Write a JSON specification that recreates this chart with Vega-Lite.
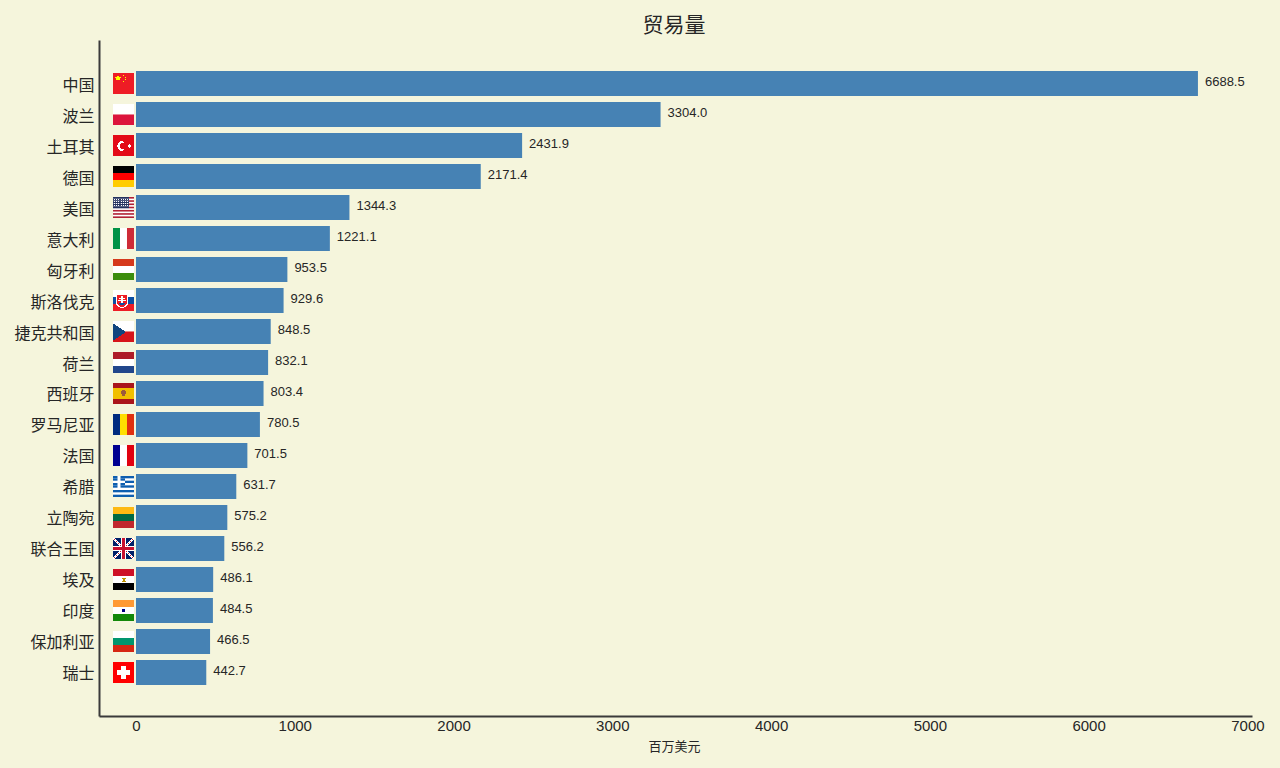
{
  "$schema": "https://vega.github.io/schema/vega-lite/v6.json",
  "width": 1153,
  "height": 676,
  "autosize": {"type": "none"},
  "padding": {"left": 99, "top": 40, "right": 28, "bottom": 52},
  "background": "#F5F5DC",
  "config": {"view": {"stroke": null}},
  "title": {
    "text": "贸易量",
    "font": "Noto Sans CJK SC",
    "fontSize": 21,
    "fontWeight": "normal",
    "color": "#262626",
    "anchor": "middle",
    "dx": -1.5,
    "offset": 4
  },
  "datasets": {
    "trade": [
      {"country": "中国", "volume": 6688.5},
      {"country": "波兰", "volume": 3304.0},
      {"country": "土耳其", "volume": 2431.9},
      {"country": "德国", "volume": 2171.4},
      {"country": "美国", "volume": 1344.3},
      {"country": "意大利", "volume": 1221.1},
      {"country": "匈牙利", "volume": 953.5},
      {"country": "斯洛伐克", "volume": 929.6},
      {"country": "捷克共和国", "volume": 848.5},
      {"country": "荷兰", "volume": 832.1},
      {"country": "西班牙", "volume": 803.4},
      {"country": "罗马尼亚", "volume": 780.5},
      {"country": "法国", "volume": 701.5},
      {"country": "希腊", "volume": 631.7},
      {"country": "立陶宛", "volume": 575.2},
      {"country": "联合王国", "volume": 556.2},
      {"country": "埃及", "volume": 486.1},
      {"country": "印度", "volume": 484.5},
      {"country": "保加利亚", "volume": 466.5},
      {"country": "瑞士", "volume": 442.7}
    ],
    "flagBase": [
      {"country": "中国", "part": "cn_red", "x0": -144.9, "x1": -12.6},
      {"country": "土耳其", "part": "tr_red", "x0": -144.9, "x1": -12.6},
      {"country": "美国", "part": "white", "x0": -144.9, "x1": -12.6},
      {"country": "意大利", "part": "it_green", "x0": -144.9, "x1": -100.8},
      {"country": "意大利", "part": "white", "x0": -100.8, "x1": -56.7},
      {"country": "意大利", "part": "it_red", "x0": -56.7, "x1": -12.6},
      {"country": "西班牙", "part": "es_red", "x0": -144.9, "x1": -12.6},
      {"country": "罗马尼亚", "part": "ro_blue", "x0": -144.9, "x1": -100.8},
      {"country": "罗马尼亚", "part": "ro_yellow", "x0": -100.8, "x1": -56.7},
      {"country": "罗马尼亚", "part": "ro_red", "x0": -56.7, "x1": -12.6},
      {"country": "法国", "part": "fr_blue", "x0": -144.9, "x1": -100.8},
      {"country": "法国", "part": "white", "x0": -100.8, "x1": -56.7},
      {"country": "法国", "part": "fr_red", "x0": -56.7, "x1": -12.6},
      {"country": "希腊", "part": "white", "x0": -144.9, "x1": -12.6},
      {"country": "联合王国", "part": "uk_blue", "x0": -144.9, "x1": -12.6},
      {"country": "瑞士", "part": "ch_red", "x0": -144.9, "x1": -12.6}
    ],
    "flagHalves": [
      {"country": "波兰", "part": "white", "x0": -144.9, "x1": -12.6, "row": 0},
      {"country": "波兰", "part": "pl_red", "x0": -144.9, "x1": -12.6, "row": 1},
      {"country": "捷克共和国", "part": "white", "x0": -144.9, "x1": -12.6, "row": 0},
      {"country": "捷克共和国", "part": "cz_red", "x0": -144.9, "x1": -12.6, "row": 1}
    ],
    "flagThirds": [
      {"country": "德国", "part": "black", "x0": -144.9, "x1": -12.6, "row": 0},
      {"country": "德国", "part": "de_red", "x0": -144.9, "x1": -12.6, "row": 1},
      {"country": "德国", "part": "de_gold", "x0": -144.9, "x1": -12.6, "row": 2},
      {"country": "匈牙利", "part": "hu_red", "x0": -144.9, "x1": -12.6, "row": 0},
      {"country": "匈牙利", "part": "white", "x0": -144.9, "x1": -12.6, "row": 1},
      {"country": "匈牙利", "part": "hu_green", "x0": -144.9, "x1": -12.6, "row": 2},
      {"country": "斯洛伐克", "part": "white", "x0": -144.9, "x1": -12.6, "row": 0},
      {"country": "斯洛伐克", "part": "sk_blue", "x0": -144.9, "x1": -12.6, "row": 1},
      {"country": "斯洛伐克", "part": "sk_red", "x0": -144.9, "x1": -12.6, "row": 2},
      {"country": "荷兰", "part": "nl_red", "x0": -144.9, "x1": -12.6, "row": 0},
      {"country": "荷兰", "part": "white", "x0": -144.9, "x1": -12.6, "row": 1},
      {"country": "荷兰", "part": "nl_blue", "x0": -144.9, "x1": -12.6, "row": 2},
      {"country": "立陶宛", "part": "lt_yellow", "x0": -144.9, "x1": -12.6, "row": 0},
      {"country": "立陶宛", "part": "lt_green", "x0": -144.9, "x1": -12.6, "row": 1},
      {"country": "立陶宛", "part": "lt_red", "x0": -144.9, "x1": -12.6, "row": 2},
      {"country": "埃及", "part": "eg_red", "x0": -144.9, "x1": -12.6, "row": 0},
      {"country": "埃及", "part": "white", "x0": -144.9, "x1": -12.6, "row": 1},
      {"country": "埃及", "part": "black", "x0": -144.9, "x1": -12.6, "row": 2},
      {"country": "印度", "part": "in_orange", "x0": -144.9, "x1": -12.6, "row": 0},
      {"country": "印度", "part": "white", "x0": -144.9, "x1": -12.6, "row": 1},
      {"country": "印度", "part": "in_green", "x0": -144.9, "x1": -12.6, "row": 2},
      {"country": "保加利亚", "part": "white", "x0": -144.9, "x1": -12.6, "row": 0},
      {"country": "保加利亚", "part": "bg_green", "x0": -144.9, "x1": -12.6, "row": 1},
      {"country": "保加利亚", "part": "bg_red", "x0": -144.9, "x1": -12.6, "row": 2}
    ],
    "flagNinths": [
      {"country": "希腊", "part": "gr_blue", "x0": -69.3, "x1": -12.6, "row": 0},
      {"country": "希腊", "part": "gr_blue", "x0": -69.3, "x1": -12.6, "row": 2},
      {"country": "希腊", "part": "gr_blue", "x0": -69.3, "x1": -12.6, "row": 4},
      {"country": "希腊", "part": "gr_blue", "x0": -144.9, "x1": -12.6, "row": 6},
      {"country": "希腊", "part": "gr_blue", "x0": -144.9, "x1": -12.6, "row": 8},
      {"country": "希腊", "part": "gr_blue", "x0": -144.9, "x1": -116.5, "row": 0},
      {"country": "希腊", "part": "gr_blue", "x0": -97.6, "x1": -69.3, "row": 0},
      {"country": "希腊", "part": "gr_blue", "x0": -144.9, "x1": -116.5, "row": 1},
      {"country": "希腊", "part": "gr_blue", "x0": -97.6, "x1": -69.3, "row": 1},
      {"country": "希腊", "part": "gr_blue", "x0": -144.9, "x1": -116.5, "row": 3},
      {"country": "希腊", "part": "gr_blue", "x0": -97.6, "x1": -69.3, "row": 3},
      {"country": "希腊", "part": "gr_blue", "x0": -144.9, "x1": -116.5, "row": 4},
      {"country": "希腊", "part": "gr_blue", "x0": -97.6, "x1": -69.3, "row": 4}
    ],
    "flagThirteenths": [
      {"country": "美国", "part": "us_red", "x0": -44.1, "x1": -12.6, "row": 0},
      {"country": "美国", "part": "us_red", "x0": -44.1, "x1": -12.6, "row": 2},
      {"country": "美国", "part": "us_red", "x0": -44.1, "x1": -12.6, "row": 4},
      {"country": "美国", "part": "us_red", "x0": -44.1, "x1": -12.6, "row": 6},
      {"country": "美国", "part": "us_red", "x0": -144.9, "x1": -12.6, "row": 8},
      {"country": "美国", "part": "us_red", "x0": -144.9, "x1": -12.6, "row": 10},
      {"country": "美国", "part": "us_red", "x0": -144.9, "x1": -12.6, "row": 12},
      {"country": "美国", "part": "us_blue", "x0": -144.9, "x1": -44.1, "row": 0},
      {"country": "美国", "part": "us_blue", "x0": -144.9, "x1": -44.1, "row": 1},
      {"country": "美国", "part": "us_blue", "x0": -144.9, "x1": -44.1, "row": 2},
      {"country": "美国", "part": "us_blue", "x0": -144.9, "x1": -44.1, "row": 3},
      {"country": "美国", "part": "us_blue", "x0": -144.9, "x1": -44.1, "row": 4},
      {"country": "美国", "part": "us_blue", "x0": -144.9, "x1": -44.1, "row": 5},
      {"country": "美国", "part": "us_blue", "x0": -144.9, "x1": -44.1, "row": 6}
    ],
    "flagCells": [
      {"country": "中国", "part": "cn_yellow", "x0": -119.7, "x1": -107.1, "row": 3},
      {"country": "中国", "part": "cn_yellow", "x0": -132.3, "x1": -94.5, "row": 4},
      {"country": "中国", "part": "cn_yellow", "x0": -126, "x1": -100.8, "row": 5},
      {"country": "中国", "part": "cn_yellow", "x0": -126, "x1": -100.8, "row": 6},
      {"country": "中国", "part": "cn_yellow", "x0": -81.9, "x1": -75.6, "row": 2},
      {"country": "中国", "part": "cn_yellow", "x0": -69.3, "x1": -63, "row": 4},
      {"country": "中国", "part": "cn_yellow", "x0": -69.3, "x1": -63, "row": 6},
      {"country": "中国", "part": "cn_yellow", "x0": -81.9, "x1": -75.6, "row": 8},

      {"country": "土耳其", "part": "white", "x0": -100.8, "x1": -81.9, "row": 6},
      {"country": "土耳其", "part": "white", "x0": -107.1, "x1": -75.6, "row": 7},
      {"country": "土耳其", "part": "white", "x0": -113.4, "x1": -94.5, "row": 8},
      {"country": "土耳其", "part": "white", "x0": -113.4, "x1": -100.8, "row": 9},
      {"country": "土耳其", "part": "white", "x0": -119.7, "x1": -100.8, "row": 10},
      {"country": "土耳其", "part": "white", "x0": -119.7, "x1": -100.8, "row": 11},
      {"country": "土耳其", "part": "white", "x0": -113.4, "x1": -100.8, "row": 12},
      {"country": "土耳其", "part": "white", "x0": -113.4, "x1": -94.5, "row": 13},
      {"country": "土耳其", "part": "white", "x0": -107.1, "x1": -75.6, "row": 14},
      {"country": "土耳其", "part": "white", "x0": -100.8, "x1": -81.9, "row": 15},
      {"country": "土耳其", "part": "white", "x0": -44.1, "x1": -37.8, "row": 9},
      {"country": "土耳其", "part": "white", "x0": -50.4, "x1": -31.5, "row": 10},
      {"country": "土耳其", "part": "white", "x0": -50.4, "x1": -31.5, "row": 11},
      {"country": "土耳其", "part": "white", "x0": -44.1, "x1": -37.8, "row": 12},

      {"country": "美国", "part": "white", "x0": -138.6, "x1": -132.3, "row": 2},
      {"country": "美国", "part": "white", "x0": -126, "x1": -119.7, "row": 2},
      {"country": "美国", "part": "white", "x0": -113.4, "x1": -107.1, "row": 2},
      {"country": "美国", "part": "white", "x0": -94.5, "x1": -88.2, "row": 2},
      {"country": "美国", "part": "white", "x0": -81.9, "x1": -75.6, "row": 2},
      {"country": "美国", "part": "white", "x0": -69.3, "x1": -63, "row": 2},
      {"country": "美国", "part": "white", "x0": -56.7, "x1": -50.4, "row": 2},
      {"country": "美国", "part": "white", "x0": -138.6, "x1": -132.3, "row": 4},
      {"country": "美国", "part": "white", "x0": -126, "x1": -119.7, "row": 4},
      {"country": "美国", "part": "white", "x0": -113.4, "x1": -107.1, "row": 4},
      {"country": "美国", "part": "white", "x0": -94.5, "x1": -88.2, "row": 4},
      {"country": "美国", "part": "white", "x0": -81.9, "x1": -75.6, "row": 4},
      {"country": "美国", "part": "white", "x0": -69.3, "x1": -63, "row": 4},
      {"country": "美国", "part": "white", "x0": -56.7, "x1": -50.4, "row": 4},
      {"country": "美国", "part": "white", "x0": -138.6, "x1": -132.3, "row": 6},
      {"country": "美国", "part": "white", "x0": -126, "x1": -119.7, "row": 6},
      {"country": "美国", "part": "white", "x0": -113.4, "x1": -107.1, "row": 6},
      {"country": "美国", "part": "white", "x0": -94.5, "x1": -88.2, "row": 6},
      {"country": "美国", "part": "white", "x0": -81.9, "x1": -75.6, "row": 6},
      {"country": "美国", "part": "white", "x0": -69.3, "x1": -63, "row": 6},
      {"country": "美国", "part": "white", "x0": -56.7, "x1": -50.4, "row": 6},
      {"country": "美国", "part": "white", "x0": -138.6, "x1": -132.3, "row": 8},
      {"country": "美国", "part": "white", "x0": -126, "x1": -119.7, "row": 8},
      {"country": "美国", "part": "white", "x0": -113.4, "x1": -107.1, "row": 8},
      {"country": "美国", "part": "white", "x0": -94.5, "x1": -88.2, "row": 8},
      {"country": "美国", "part": "white", "x0": -81.9, "x1": -75.6, "row": 8},
      {"country": "美国", "part": "white", "x0": -69.3, "x1": -63, "row": 8},
      {"country": "美国", "part": "white", "x0": -56.7, "x1": -50.4, "row": 8},

      {"country": "斯洛伐克", "part": "white", "x0": -126, "x1": -50.4, "row": 7},
      {"country": "斯洛伐克", "part": "white", "x0": -126, "x1": -50.4, "row": 8},
      {"country": "斯洛伐克", "part": "white", "x0": -126, "x1": -50.4, "row": 9},
      {"country": "斯洛伐克", "part": "white", "x0": -126, "x1": -50.4, "row": 10},
      {"country": "斯洛伐克", "part": "white", "x0": -126, "x1": -50.4, "row": 11},
      {"country": "斯洛伐克", "part": "white", "x0": -126, "x1": -50.4, "row": 12},
      {"country": "斯洛伐克", "part": "white", "x0": -126, "x1": -50.4, "row": 13},
      {"country": "斯洛伐克", "part": "white", "x0": -126, "x1": -50.4, "row": 14},
      {"country": "斯洛伐克", "part": "white", "x0": -119.7, "x1": -56.7, "row": 15},
      {"country": "斯洛伐克", "part": "white", "x0": -113.4, "x1": -63, "row": 16},
      {"country": "斯洛伐克", "part": "white", "x0": -100.8, "x1": -75.6, "row": 17},
      {"country": "斯洛伐克", "part": "sk_red", "x0": -119.7, "x1": -56.7, "row": 5},
      {"country": "斯洛伐克", "part": "sk_red", "x0": -119.7, "x1": -56.7, "row": 6},
      {"country": "斯洛伐克", "part": "sk_red", "x0": -119.7, "x1": -56.7, "row": 7},
      {"country": "斯洛伐克", "part": "sk_red", "x0": -119.7, "x1": -56.7, "row": 8},
      {"country": "斯洛伐克", "part": "sk_red", "x0": -119.7, "x1": -56.7, "row": 9},
      {"country": "斯洛伐克", "part": "sk_red", "x0": -119.7, "x1": -56.7, "row": 10},
      {"country": "斯洛伐克", "part": "sk_red", "x0": -119.7, "x1": -56.7, "row": 11},
      {"country": "斯洛伐克", "part": "sk_red", "x0": -119.7, "x1": -56.7, "row": 12},
      {"country": "斯洛伐克", "part": "sk_red", "x0": -119.7, "x1": -56.7, "row": 13},
      {"country": "斯洛伐克", "part": "sk_red", "x0": -113.4, "x1": -63, "row": 14},
      {"country": "斯洛伐克", "part": "sk_red", "x0": -107.1, "x1": -69.3, "row": 15},
      {"country": "斯洛伐克", "part": "sk_red", "x0": -100.8, "x1": -75.6, "row": 16},
      {"country": "斯洛伐克", "part": "white", "x0": -94.5, "x1": -81.9, "row": 6},
      {"country": "斯洛伐克", "part": "white", "x0": -94.5, "x1": -81.9, "row": 7},
      {"country": "斯洛伐克", "part": "white", "x0": -107.1, "x1": -69.3, "row": 8},
      {"country": "斯洛伐克", "part": "white", "x0": -94.5, "x1": -81.9, "row": 9},
      {"country": "斯洛伐克", "part": "white", "x0": -113.4, "x1": -63, "row": 10},
      {"country": "斯洛伐克", "part": "white", "x0": -94.5, "x1": -81.9, "row": 11},
      {"country": "斯洛伐克", "part": "white", "x0": -94.5, "x1": -81.9, "row": 12},
      {"country": "斯洛伐克", "part": "sk_blue", "x0": -107.1, "x1": -69.3, "row": 13},
      {"country": "斯洛伐克", "part": "sk_blue", "x0": -100.8, "x1": -75.6, "row": 14},

      {"country": "捷克共和国", "part": "cz_blue", "x0": -144.9, "x1": -132.3, "row": 3},
      {"country": "捷克共和国", "part": "cz_blue", "x0": -144.9, "x1": -126, "row": 4},
      {"country": "捷克共和国", "part": "cz_blue", "x0": -144.9, "x1": -113.4, "row": 5},
      {"country": "捷克共和国", "part": "cz_blue", "x0": -144.9, "x1": -107.1, "row": 6},
      {"country": "捷克共和国", "part": "cz_blue", "x0": -144.9, "x1": -94.5, "row": 7},
      {"country": "捷克共和国", "part": "cz_blue", "x0": -144.9, "x1": -88.2, "row": 8},
      {"country": "捷克共和国", "part": "cz_blue", "x0": -144.9, "x1": -75.6, "row": 9},
      {"country": "捷克共和国", "part": "cz_blue", "x0": -144.9, "x1": -69.3, "row": 10},
      {"country": "捷克共和国", "part": "cz_blue", "x0": -144.9, "x1": -69.3, "row": 11},
      {"country": "捷克共和国", "part": "cz_blue", "x0": -144.9, "x1": -75.6, "row": 12},
      {"country": "捷克共和国", "part": "cz_blue", "x0": -144.9, "x1": -88.2, "row": 13},
      {"country": "捷克共和国", "part": "cz_blue", "x0": -144.9, "x1": -94.5, "row": 14},
      {"country": "捷克共和国", "part": "cz_blue", "x0": -144.9, "x1": -107.1, "row": 15},
      {"country": "捷克共和国", "part": "cz_blue", "x0": -144.9, "x1": -113.4, "row": 16},
      {"country": "捷克共和国", "part": "cz_blue", "x0": -144.9, "x1": -126, "row": 17},
      {"country": "捷克共和国", "part": "cz_blue", "x0": -144.9, "x1": -132.3, "row": 18},

      {"country": "西班牙", "part": "es_yellow", "x0": -144.9, "x1": -12.6, "row": 5},
      {"country": "西班牙", "part": "es_yellow", "x0": -144.9, "x1": -12.6, "row": 6},
      {"country": "西班牙", "part": "es_yellow", "x0": -144.9, "x1": -12.6, "row": 7},
      {"country": "西班牙", "part": "es_yellow", "x0": -144.9, "x1": -12.6, "row": 8},
      {"country": "西班牙", "part": "es_yellow", "x0": -144.9, "x1": -12.6, "row": 9},
      {"country": "西班牙", "part": "es_yellow", "x0": -144.9, "x1": -12.6, "row": 10},
      {"country": "西班牙", "part": "es_yellow", "x0": -144.9, "x1": -12.6, "row": 11},
      {"country": "西班牙", "part": "es_yellow", "x0": -144.9, "x1": -12.6, "row": 12},
      {"country": "西班牙", "part": "es_yellow", "x0": -144.9, "x1": -12.6, "row": 13},
      {"country": "西班牙", "part": "es_yellow", "x0": -144.9, "x1": -12.6, "row": 14},
      {"country": "西班牙", "part": "es_yellow", "x0": -144.9, "x1": -12.6, "row": 15},
      {"country": "西班牙", "part": "es_arms", "x0": -88.2, "x1": -69.3, "row": 7},
      {"country": "西班牙", "part": "es_arms", "x0": -94.5, "x1": -63, "row": 8},
      {"country": "西班牙", "part": "es_arms", "x0": -94.5, "x1": -63, "row": 9},
      {"country": "西班牙", "part": "es_arms", "x0": -94.5, "x1": -63, "row": 10},
      {"country": "西班牙", "part": "es_arms", "x0": -88.2, "x1": -69.3, "row": 11},
      {"country": "西班牙", "part": "es_arms", "x0": -88.2, "x1": -69.3, "row": 12},

      {"country": "联合王国", "part": "white", "x0": -144.9, "x1": -132.3, "row": 0},
      {"country": "联合王国", "part": "white", "x0": -25.2, "x1": -12.6, "row": 0},
      {"country": "联合王国", "part": "white", "x0": -144.9, "x1": -126, "row": 1},
      {"country": "联合王国", "part": "white", "x0": -31.5, "x1": -12.6, "row": 1},
      {"country": "联合王国", "part": "white", "x0": -138.6, "x1": -119.7, "row": 2},
      {"country": "联合王国", "part": "white", "x0": -37.8, "x1": -18.9, "row": 2},
      {"country": "联合王国", "part": "white", "x0": -132.3, "x1": -113.4, "row": 3},
      {"country": "联合王国", "part": "white", "x0": -44.1, "x1": -25.2, "row": 3},
      {"country": "联合王国", "part": "white", "x0": -126, "x1": -107.1, "row": 4},
      {"country": "联合王国", "part": "white", "x0": -50.4, "x1": -31.5, "row": 4},
      {"country": "联合王国", "part": "white", "x0": -119.7, "x1": -100.8, "row": 5},
      {"country": "联合王国", "part": "white", "x0": -56.7, "x1": -37.8, "row": 5},
      {"country": "联合王国", "part": "white", "x0": -113.4, "x1": -94.5, "row": 6},
      {"country": "联合王国", "part": "white", "x0": -63, "x1": -44.1, "row": 6},
      {"country": "联合王国", "part": "white", "x0": -107.1, "x1": -94.5, "row": 7},
      {"country": "联合王国", "part": "white", "x0": -63, "x1": -50.4, "row": 7},
      {"country": "联合王国", "part": "white", "x0": -107.1, "x1": -94.5, "row": 13},
      {"country": "联合王国", "part": "white", "x0": -63, "x1": -50.4, "row": 13},
      {"country": "联合王国", "part": "white", "x0": -113.4, "x1": -94.5, "row": 14},
      {"country": "联合王国", "part": "white", "x0": -63, "x1": -44.1, "row": 14},
      {"country": "联合王国", "part": "white", "x0": -119.7, "x1": -100.8, "row": 15},
      {"country": "联合王国", "part": "white", "x0": -56.7, "x1": -37.8, "row": 15},
      {"country": "联合王国", "part": "white", "x0": -126, "x1": -107.1, "row": 16},
      {"country": "联合王国", "part": "white", "x0": -50.4, "x1": -31.5, "row": 16},
      {"country": "联合王国", "part": "white", "x0": -132.3, "x1": -113.4, "row": 17},
      {"country": "联合王国", "part": "white", "x0": -44.1, "x1": -25.2, "row": 17},
      {"country": "联合王国", "part": "white", "x0": -138.6, "x1": -119.7, "row": 18},
      {"country": "联合王国", "part": "white", "x0": -37.8, "x1": -18.9, "row": 18},
      {"country": "联合王国", "part": "white", "x0": -144.9, "x1": -126, "row": 19},
      {"country": "联合王国", "part": "white", "x0": -31.5, "x1": -12.6, "row": 19},
      {"country": "联合王国", "part": "white", "x0": -144.9, "x1": -132.3, "row": 20},
      {"country": "联合王国", "part": "white", "x0": -25.2, "x1": -12.6, "row": 20},
      {"country": "联合王国", "part": "uk_red", "x0": -138.6, "x1": -132.3, "row": 1},
      {"country": "联合王国", "part": "uk_red", "x0": -126, "x1": -119.7, "row": 3},
      {"country": "联合王国", "part": "uk_red", "x0": -113.4, "x1": -107.1, "row": 5},
      {"country": "联合王国", "part": "uk_red", "x0": -100.8, "x1": -94.5, "row": 7},
      {"country": "联合王国", "part": "uk_red", "x0": -25.2, "x1": -18.9, "row": 1},
      {"country": "联合王国", "part": "uk_red", "x0": -37.8, "x1": -31.5, "row": 3},
      {"country": "联合王国", "part": "uk_red", "x0": -50.4, "x1": -44.1, "row": 5},
      {"country": "联合王国", "part": "uk_red", "x0": -63, "x1": -56.7, "row": 7},
      {"country": "联合王国", "part": "uk_red", "x0": -100.8, "x1": -94.5, "row": 13},
      {"country": "联合王国", "part": "uk_red", "x0": -113.4, "x1": -107.1, "row": 15},
      {"country": "联合王国", "part": "uk_red", "x0": -126, "x1": -119.7, "row": 17},
      {"country": "联合王国", "part": "uk_red", "x0": -138.6, "x1": -132.3, "row": 19},
      {"country": "联合王国", "part": "uk_red", "x0": -63, "x1": -56.7, "row": 13},
      {"country": "联合王国", "part": "uk_red", "x0": -50.4, "x1": -44.1, "row": 15},
      {"country": "联合王国", "part": "uk_red", "x0": -37.8, "x1": -31.5, "row": 17},
      {"country": "联合王国", "part": "uk_red", "x0": -25.2, "x1": -18.9, "row": 19},
      {"country": "联合王国", "part": "white", "x0": -94.5, "x1": -63, "row": 0},
      {"country": "联合王国", "part": "white", "x0": -94.5, "x1": -63, "row": 1},
      {"country": "联合王国", "part": "white", "x0": -94.5, "x1": -63, "row": 2},
      {"country": "联合王国", "part": "white", "x0": -94.5, "x1": -63, "row": 3},
      {"country": "联合王国", "part": "white", "x0": -94.5, "x1": -63, "row": 4},
      {"country": "联合王国", "part": "white", "x0": -94.5, "x1": -63, "row": 5},
      {"country": "联合王国", "part": "white", "x0": -94.5, "x1": -63, "row": 6},
      {"country": "联合王国", "part": "white", "x0": -94.5, "x1": -63, "row": 7},
      {"country": "联合王国", "part": "white", "x0": -144.9, "x1": -12.6, "row": 8},
      {"country": "联合王国", "part": "white", "x0": -144.9, "x1": -12.6, "row": 12},
      {"country": "联合王国", "part": "white", "x0": -94.5, "x1": -63, "row": 13},
      {"country": "联合王国", "part": "white", "x0": -94.5, "x1": -63, "row": 14},
      {"country": "联合王国", "part": "white", "x0": -94.5, "x1": -63, "row": 15},
      {"country": "联合王国", "part": "white", "x0": -94.5, "x1": -63, "row": 16},
      {"country": "联合王国", "part": "white", "x0": -94.5, "x1": -63, "row": 17},
      {"country": "联合王国", "part": "white", "x0": -94.5, "x1": -63, "row": 18},
      {"country": "联合王国", "part": "white", "x0": -94.5, "x1": -63, "row": 19},
      {"country": "联合王国", "part": "white", "x0": -94.5, "x1": -63, "row": 20},
      {"country": "联合王国", "part": "uk_red", "x0": -88.2, "x1": -69.3, "row": 0},
      {"country": "联合王国", "part": "uk_red", "x0": -88.2, "x1": -69.3, "row": 1},
      {"country": "联合王国", "part": "uk_red", "x0": -88.2, "x1": -69.3, "row": 2},
      {"country": "联合王国", "part": "uk_red", "x0": -88.2, "x1": -69.3, "row": 3},
      {"country": "联合王国", "part": "uk_red", "x0": -88.2, "x1": -69.3, "row": 4},
      {"country": "联合王国", "part": "uk_red", "x0": -88.2, "x1": -69.3, "row": 5},
      {"country": "联合王国", "part": "uk_red", "x0": -88.2, "x1": -69.3, "row": 6},
      {"country": "联合王国", "part": "uk_red", "x0": -88.2, "x1": -69.3, "row": 7},
      {"country": "联合王国", "part": "uk_red", "x0": -88.2, "x1": -69.3, "row": 8},
      {"country": "联合王国", "part": "uk_red", "x0": -144.9, "x1": -12.6, "row": 9},
      {"country": "联合王国", "part": "uk_red", "x0": -144.9, "x1": -12.6, "row": 10},
      {"country": "联合王国", "part": "uk_red", "x0": -144.9, "x1": -12.6, "row": 11},
      {"country": "联合王国", "part": "uk_red", "x0": -88.2, "x1": -69.3, "row": 12},
      {"country": "联合王国", "part": "uk_red", "x0": -88.2, "x1": -69.3, "row": 13},
      {"country": "联合王国", "part": "uk_red", "x0": -88.2, "x1": -69.3, "row": 14},
      {"country": "联合王国", "part": "uk_red", "x0": -88.2, "x1": -69.3, "row": 15},
      {"country": "联合王国", "part": "uk_red", "x0": -88.2, "x1": -69.3, "row": 16},
      {"country": "联合王国", "part": "uk_red", "x0": -88.2, "x1": -69.3, "row": 17},
      {"country": "联合王国", "part": "uk_red", "x0": -88.2, "x1": -69.3, "row": 18},
      {"country": "联合王国", "part": "uk_red", "x0": -88.2, "x1": -69.3, "row": 19},
      {"country": "联合王国", "part": "uk_red", "x0": -88.2, "x1": -69.3, "row": 20},

      {"country": "埃及", "part": "eg_gold", "x0": -88.2, "x1": -63, "row": 9},
      {"country": "埃及", "part": "eg_gold", "x0": -81.9, "x1": -69.3, "row": 10},
      {"country": "埃及", "part": "eg_gold", "x0": -81.9, "x1": -69.3, "row": 11},
      {"country": "埃及", "part": "eg_gold", "x0": -88.2, "x1": -63, "row": 12},

      {"country": "印度", "part": "in_navy", "x0": -88.2, "x1": -69.3, "row": 9},
      {"country": "印度", "part": "in_navy", "x0": -88.2, "x1": -69.3, "row": 10},
      {"country": "印度", "part": "in_navy", "x0": -88.2, "x1": -69.3, "row": 11},

      {"country": "瑞士", "part": "white", "x0": -94.5, "x1": -63, "row": 4},
      {"country": "瑞士", "part": "white", "x0": -94.5, "x1": -63, "row": 5},
      {"country": "瑞士", "part": "white", "x0": -94.5, "x1": -63, "row": 6},
      {"country": "瑞士", "part": "white", "x0": -94.5, "x1": -63, "row": 7},
      {"country": "瑞士", "part": "white", "x0": -119.7, "x1": -37.8, "row": 8},
      {"country": "瑞士", "part": "white", "x0": -119.7, "x1": -37.8, "row": 9},
      {"country": "瑞士", "part": "white", "x0": -119.7, "x1": -37.8, "row": 10},
      {"country": "瑞士", "part": "white", "x0": -119.7, "x1": -37.8, "row": 11},
      {"country": "瑞士", "part": "white", "x0": -119.7, "x1": -37.8, "row": 12},
      {"country": "瑞士", "part": "white", "x0": -94.5, "x1": -63, "row": 13},
      {"country": "瑞士", "part": "white", "x0": -94.5, "x1": -63, "row": 14},
      {"country": "瑞士", "part": "white", "x0": -94.5, "x1": -63, "row": 15},
      {"country": "瑞士", "part": "white", "x0": -94.5, "x1": -63, "row": 16}
    ]
  },
  "layer": [
    {
      "data": {"name": "trade"},
      "encoding": {
        "x": {
          "field": "volume",
          "type": "quantitative",
          "title": "百万美元",
          "scale": {"domain": [-233, 7029], "nice": false, "zero": false},
          "axis": {
            "values": [0, 1000, 2000, 3000, 4000, 5000, 6000, 7000],
            "format": "d",
            "grid": false,
            "ticks": false,
            "domainColor": "#3a3a3a",
            "domainWidth": 2,
            "labelFont": "Liberation Sans",
            "labelFontSize": 15,
            "labelColor": "#262626",
            "labelPadding": 2,
            "titleFont": "Noto Sans CJK SC",
            "titleFontSize": 13,
            "titleFontWeight": "normal",
            "titleColor": "#262626",
            "titlePadding": 7,
            "titleX": 575
          }
        },
        "y": {
          "field": "country",
          "type": "nominal",
          "sort": null,
          "title": null,
          "scale": {"paddingInner": 0.1935, "paddingOuter": 1},
          "axis": {
            "grid": false,
            "ticks": false,
            "domainColor": "#3a3a3a",
            "domainWidth": 2,
            "labelFont": "Noto Sans CJK SC",
            "labelFontSize": 16,
            "labelColor": "#262626",
            "labelPadding": 5,
            "labelOffset": 2
          }
        }
      },
      "layer": [
        {"mark": {"type": "bar", "color": "#4682B4"}},
        {
          "mark": {
            "type": "text",
            "align": "left",
            "dx": 7,
            "dy": -1.5,
            "font": "Liberation Sans",
            "fontSize": 13,
            "color": "#262626"
          },
          "encoding": {"text": {"field": "volume", "type": "quantitative", "format": ".1f"}}
        }
      ]
    },
    {
      "encoding": {
        "x": {"field": "x0", "type": "quantitative", "title": "百万美元"},
        "x2": {"field": "x1"},
        "y": {
          "field": "country",
          "type": "nominal",
          "axis": null,
          "scale": {
            "domain": ["中国", "波兰", "土耳其", "德国", "美国", "意大利", "匈牙利", "斯洛伐克", "捷克共和国", "荷兰", "西班牙", "罗马尼亚", "法国", "希腊", "立陶宛", "联合王国", "埃及", "印度", "保加利亚", "瑞士"],
            "range": [2, 674],
            "paddingInner": 0.3226,
            "paddingOuter": 1
          }
        },
        "color": {
          "field": "part",
          "type": "nominal",
          "legend": null,
          "scale": {
            "domain": ["white", "black", "cn_red", "cn_yellow", "pl_red", "tr_red", "de_red", "de_gold", "us_red", "us_blue", "it_green", "it_red", "hu_red", "hu_green", "sk_blue", "sk_red", "cz_blue", "cz_red", "nl_red", "nl_blue", "es_red", "es_yellow", "es_arms", "ro_blue", "ro_yellow", "ro_red", "fr_blue", "fr_red", "gr_blue", "lt_yellow", "lt_green", "lt_red", "uk_blue", "uk_red", "eg_red", "eg_gold", "in_orange", "in_green", "in_navy", "bg_green", "bg_red", "ch_red"],
            "range": ["#FFFFFF", "#000000", "#EE1C25", "#FFFF00", "#DC143C", "#E30A17", "#FF0000", "#FFCC00", "#B22234", "#24325F", "#009246", "#CE2B37", "#D5391B", "#3C8D0D", "#0B4EA2", "#EE1C25", "#11457E", "#D7141A", "#AE1C28", "#21468B", "#AA151B", "#F1BF00", "#9C5A3C", "#002B7F", "#FFDF00", "#E03010", "#000091", "#E1000F", "#0D5EAF", "#FDB913", "#006A44", "#C1272D", "#012169", "#C8102E", "#CE1126", "#C09300", "#FF9933", "#138808", "#000080", "#00966E", "#D62612", "#FF0000"]
          }
        }
      },
      "layer": [
        {"data": {"name": "flagBase"}, "mark": "rect"},
        {
          "data": {"name": "flagHalves"},
          "mark": "rect",
          "encoding": {"yOffset": {"field": "row", "type": "ordinal", "scale": {"domain": [0, 1], "padding": 0}}}
        },
        {
          "data": {"name": "flagThirds"},
          "mark": "rect",
          "encoding": {"yOffset": {"field": "row", "type": "ordinal", "scale": {"domain": [0, 1, 2], "padding": 0}}}
        },
        {
          "data": {"name": "flagNinths"},
          "mark": "rect",
          "encoding": {"yOffset": {"field": "row", "type": "ordinal", "scale": {"domain": [0, 1, 2, 3, 4, 5, 6, 7, 8], "padding": 0}}}
        },
        {
          "data": {"name": "flagThirteenths"},
          "mark": "rect",
          "encoding": {"yOffset": {"field": "row", "type": "ordinal", "scale": {"domain": [0, 1, 2, 3, 4, 5, 6, 7, 8, 9, 10, 11, 12], "padding": 0}}}
        },
        {
          "data": {"name": "flagCells"},
          "mark": "rect",
          "encoding": {"yOffset": {"field": "row", "type": "ordinal", "scale": {"domain": [0, 1, 2, 3, 4, 5, 6, 7, 8, 9, 10, 11, 12, 13, 14, 15, 16, 17, 18, 19, 20], "padding": 0}}}
        }
      ],
      "resolve": {"scale": {"yOffset": "independent"}}
    }
  ],
  "resolve": {"scale": {"y": "independent"}}
}
